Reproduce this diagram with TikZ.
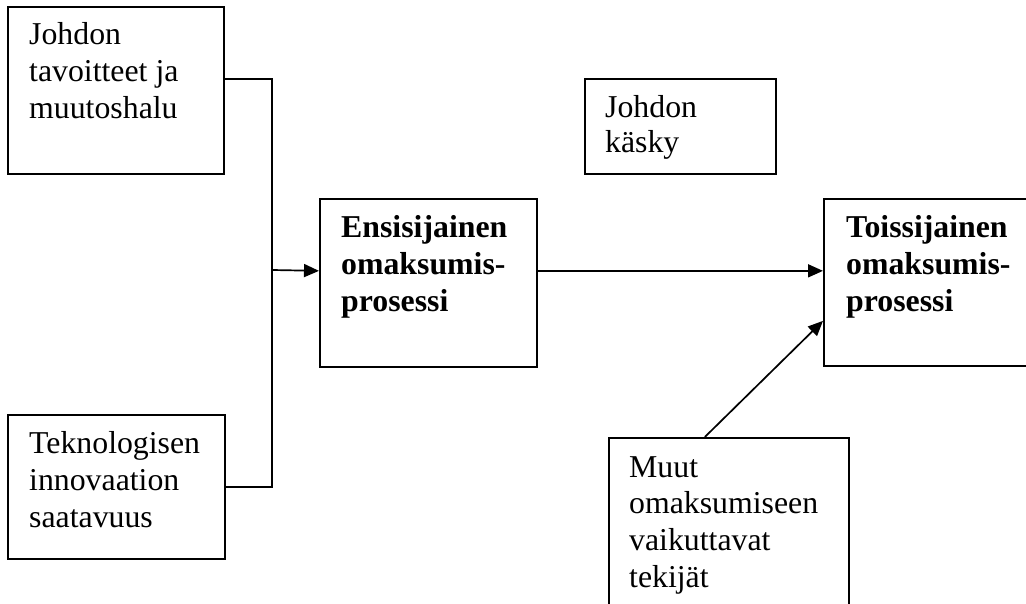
\documentclass[tikz,border=0pt]{standalone}
\usepackage{fontspec}
\setmainfont{Liberation Serif}
\usetikzlibrary{arrows.meta}

\tikzset{
  box/.style={draw, line width=1.7pt, inner sep=0pt, anchor=north west},
  boxtext/.style={anchor=base west, inner sep=0pt, font=\fontsize{31.8}{37}\selectfont},
  link/.style={line width=1.7pt},
  arrow/.style={line width=1.7pt, -{Triangle[length=15pt,width=13pt]}}
}

% first line of a text block sits on the node's base
\newcommand{\lines}[2]{\parbox[t]{#1}{\raggedright #2}}

\begin{document}
\begin{tikzpicture}[x=1pt,y=-1pt]
\path[use as bounding box, clip] (0,0) rectangle (1026,604);
\fill[white] (0,0) rectangle (1026,604);

% boxes
\node[box, minimum width=216pt, minimum height=167pt] (A) at (7,6) {};
\node[box, minimum width=217pt, minimum height=144pt] (B) at (7,414) {};
\node[box, minimum width=217pt, minimum height=168pt] (C) at (319,198) {};
\node[box, minimum width=191pt, minimum height=95pt]  (D) at (584,78) {};
\node[box, minimum width=230pt, minimum height=167pt] (E) at (823,198) {};
\node[box, minimum width=240pt, minimum height=220pt] (F) at (608,437) {};

% texts
\node[boxtext] (tA) at (29,45) {\lines{200pt}{Johdon\\tavoitteet ja\\muutoshalu}};
\node[boxtext] (tB) at (29,453) {\lines{200pt}{Teknologisen\\innovaation\\saatavuus}};
\node[boxtext] (tC) at (341,238) {\lines{200pt}{\bfseries Ensisijainen\\omaksumis-\\prosessi}};
\node[boxtext, font=\fontsize{31.8}{34.5}\selectfont] (tD) at (605,118) {\lines{170pt}{Johdon\\käsky}};
\node[boxtext] (tE) at (846,238) {\lines{200pt}{\bfseries Toissijainen\\omaksumis-\\prosessi}};
\node[boxtext, font=\fontsize{31.8}{36.7}\selectfont] (tF) at (629,477) {\lines{215pt}{Muut\\omaksumiseen\\vaikuttavat\\tekijät}};

% connectors
\coordinate (j) at (272,270);
\draw[link] ([yshift=11.5pt]A.east) -| (j) |- (B.east);
\draw[arrow] (j) -- ([yshift=12pt]C.west);
\draw[arrow] ([yshift=12pt]C.east) -- ([yshift=11.5pt]E.west);
\draw[arrow] ([xshift=-24pt]F.north) -- ([yshift=-38.5pt]E.west);
\end{tikzpicture}
\end{document}
